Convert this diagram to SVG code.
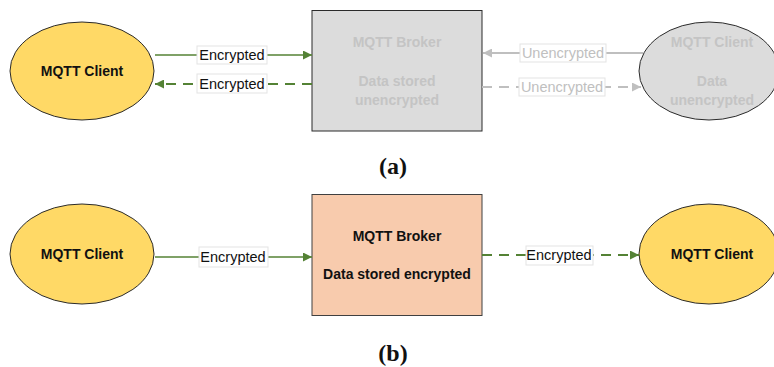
<svg xmlns="http://www.w3.org/2000/svg" width="774" height="367" viewBox="0 0 774 367">
  <defs>
    <marker id="arrGreen" viewBox="0 0 10 10" refX="10" refY="5" markerWidth="10" markerHeight="9" markerUnits="userSpaceOnUse" orient="auto">
      <path d="M0,0 L10,5 L0,10 z" fill="#548235"/>
    </marker>
    <marker id="arrGrey" viewBox="0 0 10 10" refX="10" refY="5" markerWidth="10" markerHeight="9" markerUnits="userSpaceOnUse" orient="auto">
      <path d="M0,0 L10,5 L0,10 z" fill="#bfbfbf"/>
    </marker>
    <style>
      .client { fill: #ffd966; stroke: #2b2b2b; stroke-width: 1; }
      .off { fill: #dcdcdc; stroke: #2b2b2b; stroke-width: 1; }
      .broker { fill: #f8cbad; stroke: #404040; stroke-width: 1; }
      .nt { font-family: "Liberation Sans", Arial, sans-serif; font-weight: bold; font-size: 14px; text-anchor: middle; dominant-baseline: central; fill: #111; }
      .nt.dim { fill: #c4c4c4; }
      .green { stroke: #548235; stroke-width: 1.5; fill: none; }
      .grey { stroke: #bfbfbf; stroke-width: 2; fill: none; }
      .dash { stroke-dasharray: 10 7; stroke-width: 2; }
      .lbox { fill: #ffffff; stroke: #e3e3e3; stroke-width: 1; }
      .lt { font-family: "Liberation Sans", Arial, sans-serif; font-size: 14.5px; text-anchor: middle; dominant-baseline: central; fill: #111; }
      .lt.dim { fill: #c0c0c0; }
      .cap { font-family: "Liberation Serif", "DejaVu Serif", serif; font-weight: bold; font-size: 24px; text-anchor: middle; fill: #111; }
    </style>
  </defs>

  <!-- (a) nodes -->
  <g id="a-client-left">
    <ellipse class="client" cx="82" cy="71" rx="72" ry="49"/>
    <text class="nt" x="82" y="71">MQTT Client</text>
  </g>
  <g id="a-broker">
    <rect class="off" x="312" y="10.5" width="170" height="120.5"/>
    <text class="nt dim" x="397" y="42">MQTT Broker</text>
    <text class="nt dim" x="397" y="81">Data stored</text>
    <text class="nt dim" x="397" y="100">unencrypted</text>
  </g>
  <g id="a-client-right">
    <ellipse class="off" cx="709" cy="71" rx="70" ry="49"/>
    <text class="nt dim" x="712" y="42">MQTT Client</text>
    <text class="nt dim" x="712" y="81">Data</text>
    <text class="nt dim" x="712" y="100">unencrypted</text>
  </g>

  <!-- (b) nodes -->
  <g id="b-client-left">
    <ellipse class="client" cx="82" cy="254" rx="72" ry="50"/>
    <text class="nt" x="82" y="254">MQTT Client</text>
  </g>
  <g id="b-broker">
    <rect class="broker" x="312" y="194.5" width="170" height="121"/>
    <text class="nt" x="397" y="236">MQTT Broker</text>
    <text class="nt" x="397" y="274">Data stored encrypted</text>
  </g>
  <g id="b-client-right">
    <ellipse class="client" cx="709" cy="254" rx="70" ry="50"/>
    <text class="nt" x="712" y="254">MQTT Client</text>
  </g>

  <!-- connectors -->
  <g id="connectors">
    <!-- (a) -->
    <line class="green" x1="155" y1="55" x2="312" y2="55" marker-end="url(#arrGreen)"/>
    <rect class="lbox" x="197" y="46" width="70" height="18"/>
    <text class="lt" x="232" y="55">Encrypted</text>

    <line class="green dash" x1="312" y1="84" x2="155" y2="84" marker-end="url(#arrGreen)"/>
    <rect class="lbox" x="197" y="74" width="70" height="19"/>
    <text class="lt" x="232" y="84">Encrypted</text>

    <line class="grey" x1="643" y1="53" x2="483" y2="53" marker-end="url(#arrGrey)"/>
    <rect class="lbox" x="520" y="44" width="86" height="18"/>
    <text class="lt dim" x="563" y="53">Unencrypted</text>

    <line class="grey dash" x1="482" y1="87" x2="641" y2="87" marker-end="url(#arrGrey)"/>
    <rect class="lbox" x="519" y="78" width="86" height="18"/>
    <text class="lt dim" x="562" y="87">Unencrypted</text>

    <!-- (b) -->
    <line class="green" x1="155" y1="257" x2="312" y2="257" marker-end="url(#arrGreen)"/>
    <rect class="lbox" x="199" y="247" width="69" height="20"/>
    <text class="lt" x="233" y="257">Encrypted</text>

    <line class="green dash" x1="482" y1="255" x2="639" y2="255" marker-end="url(#arrGreen)"/>
    <rect class="lbox" x="526" y="246" width="67" height="19"/>
    <text class="lt" x="559" y="255">Encrypted</text>
  </g>

  <!-- captions -->
  <text class="cap" x="393" y="174">(a)</text>
  <text class="cap" x="393" y="361">(b)</text>
</svg>
